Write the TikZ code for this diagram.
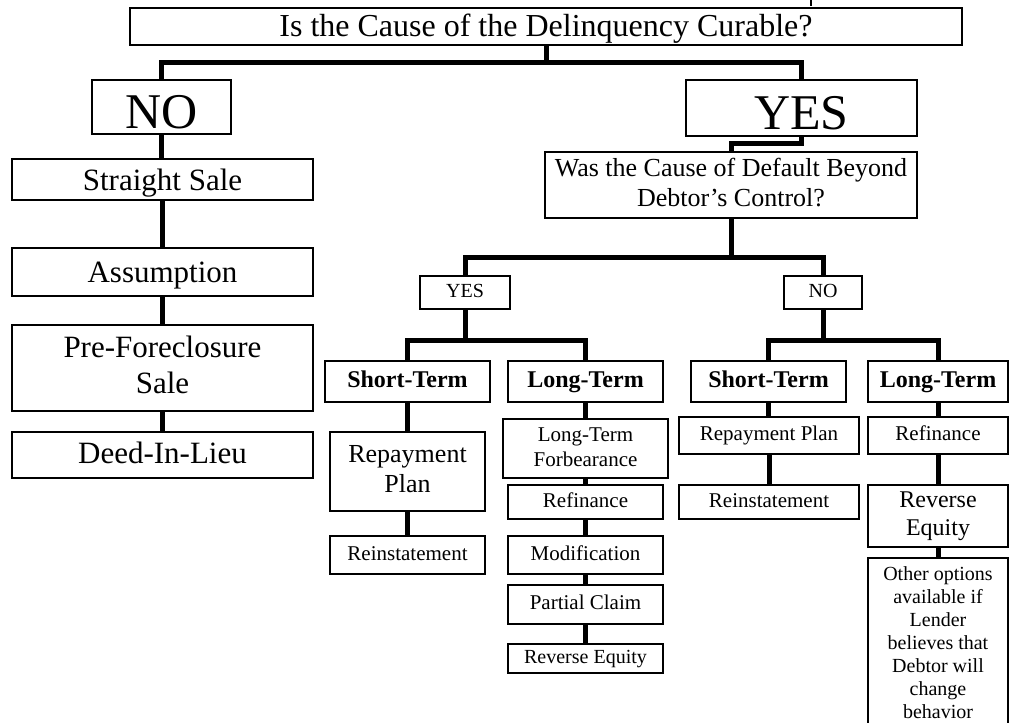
\documentclass[tikz,border=0pt]{standalone}
\usepackage{fontspec}
\setmainfont{Liberation Serif}
\newcommand\fs[2]{\fontsize{#1}{#2}\selectfont}
\tikzset{
  bx/.style={draw, line width=2.2pt, inner sep=0pt, align=center, fill=white},
  thinbx/.style={line width=1.5pt},
  conn/.style={line width=5pt, line join=miter},
}
\newcommand\bx[7][]{\node[bx,minimum width={#5-#3},minimum height={#6-#4},#1] (#2) at ({(#3+#5)/2},{(#4+#6)/2}) {\strut#7\strut};}
\begin{document}
\begin{tikzpicture}[x=1pt,y=-1pt]
\clip (0,0) rectangle (1010,723);
\fill[white] (0,0) rectangle (1010,723);
\coordinate (tk1) at (811,0);
\coordinate (tk2) at (811,6);
\draw[line width=2.5pt] (tk1) -- (tk2);
% boxes
\bx[thinbx,font=\fs{32}{36},text height=22pt,text depth=3pt]{top}{130}{8}{962}{45}{Is the Cause of the Delinquency Curable?}
\bx[thinbx,font=\fs{50}{54},text height=45pt,text depth=3pt]{no}{92}{80}{231}{134}{NO}
\bx[thinbx,font=\fs{50}{54},text height=45pt,text depth=3pt]{yes}{686}{80}{917}{136}{YES}
\bx[thinbx,font=\fs{26}{30}]{was}{545}{152}{917}{218}{Was the Cause of Default Beyond\\Debtor’s Control?}
\bx[font=\fs{31}{36},text height=24pt,text depth=3pt]{ss}{12}{159}{313}{200}{Straight Sale}
\bx[font=\fs{31}{36},text height=23pt,text depth=3pt]{ass}{12}{248}{313}{296}{Assumption}
\bx[font=\fs{31}{36}]{pref}{12}{325}{313}{411}{Pre-Foreclosure\\Sale}
\bx[font=\fs{31}{36},text height=22pt,text depth=6pt]{deed}{12}{432}{313}{478}{Deed-In-Lieu}
\bx[font=\fs{20}{24}]{ys}{420}{276}{510}{309}{YES}
\bx[font=\fs{20}{24}]{ns}{784}{276}{862}{309}{NO}
\bx[font=\fs{24}{28}\bfseries]{sty}{325}{361}{490}{402}{Short-Term}
\bx[font=\fs{24}{28}\bfseries]{lty}{508}{361}{663}{402}{Long-Term}
\bx[font=\fs{26}{30}]{rep}{330}{432}{485}{511}{Repayment\\Plan}
\bx[font=\fs{21}{25}]{rein}{330}{536}{485}{574}{Reinstatement}
\bx[font=\fs{21}{25}]{ltf}{503}{419}{668}{478}{Long-Term\\Forbearance}
\bx[font=\fs{21}{25}]{refi}{508}{485}{663}{519}{Refinance}
\bx[font=\fs{21}{25}]{mod}{508}{536}{663}{574}{Modification}
\bx[font=\fs{21}{25}]{pc}{508}{585}{663}{624}{Partial Claim}
\bx[font=\fs{20}{24}]{re}{508}{644}{663}{673}{Reverse Equity}
\bx[font=\fs{24}{28}\bfseries]{stn}{691}{361}{846}{402}{Short-Term}
\bx[font=\fs{24}{28}\bfseries]{ltn}{868}{361}{1008}{402}{Long-Term}
\bx[font=\fs{21}{25}]{repn}{679}{417}{859}{454}{Repayment Plan}
\bx[font=\fs{21}{25}]{rein2}{679}{485}{859}{519}{Reinstatement}
\bx[font=\fs{21}{25}]{refn}{868}{417}{1008}{454}{Refinance}
\bx[font=\fs{24}{28}]{ren}{868}{485}{1008}{547}{Reverse\\Equity}
\node[bx,minimum width=140pt,minimum height=200pt,anchor=north] (oth) at (938,557) {};
\node[anchor=north, align=center, inner sep=0pt, font=\fs{20}{23}] (othtxt) at ([yshift=-7pt]oth.north) {\strut Other options\\available if\\Lender\\believes that\\Debtor will\\change\\behavior\strut};
% connectors
\begin{scope}[conn]
\draw (top.south) -- (top.south |- 0,62) coordinate (j1);
\draw (no.north) |- (j1) -| (yes.north);
\draw (yes.south) -- ++(0,7) -| (was.north);
\draw (was.south) -- (was.south |- 0,257) coordinate (j2);
\draw (ys.north) |- (j2) -| (ns.north);
\draw (ys.south) -- (ys.south |- 0,340) coordinate (j3);
\draw (sty.north) |- (j3) -| (lty.north);
\draw (ns.south) -- (ns.south |- 0,340) coordinate (j4);
\draw (stn.north) |- (j4) -| (ltn.north);
\draw (no.south) -- (no.south |- ss.north);
\draw (ss.south) -- (ss.south |- ass.north);
\draw (ass.south) -- (ass.south |- pref.north);
\draw (pref.south) -- (pref.south |- deed.north);
\draw (sty.south) -- (sty.south |- rep.north);
\draw (rep.south) -- (rep.south |- rein.north);
\draw (lty.south) -- (lty.south |- ltf.north);
\draw (ltf.south) -- (ltf.south |- refi.north);
\draw (refi.south) -- (refi.south |- mod.north);
\draw (mod.south) -- (mod.south |- pc.north);
\draw (pc.south) -- (pc.south |- re.north);
\draw (stn.south) -- (stn.south |- repn.north);
\draw (repn.south) -- (repn.south |- rein2.north);
\draw (ltn.south) -- (ltn.south |- refn.north);
\draw (refn.south) -- (refn.south |- ren.north);
\draw (ren.south) -- (ren.south |- oth.north);
\end{scope}
\end{tikzpicture}
\end{document}
